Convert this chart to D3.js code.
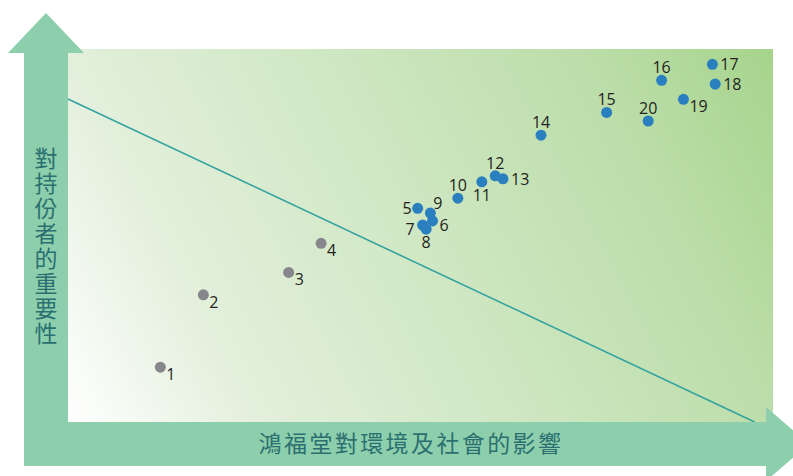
<html>
<head>
<meta charset="utf-8" />
<script src="https://cdn.jsdelivr.net/npm/d3@7/dist/d3.min.js"></script>
<style>
body { margin: 0; background: #fff; }
.num { font-family: "Open Sans", sans-serif; font-size: 16px; fill: #231f20; }
.axislabel { font-family: "Noto Sans CJK TC", sans-serif; font-size: 23px; fill: #2b6f70; }
</style>
</head>
<body>
<svg id="chart" width="793" height="476"></svg>
<script>

// issue numbers, impact on environment & society (x), importance to stakeholders (y)
var ids     = [1, 2, 3, 4, 5, 6, 7, 8, 9, 10, 11, 12, 13, 14, 15, 16, 17, 18, 19, 20];
var impact  = [13.1, 19.2, 31.3, 35.9, 49.6, 51.7, 50.3, 50.8, 51.4, 55.3, 58.7, 60.6, 61.7, 67.1, 76.4, 84.2, 91.4, 91.8, 87.3, 82.3];
var importance = [14.7, 34.1, 40.1, 47.9, 57.3, 53.9, 52.8, 51.7, 56.0, 60.0, 64.4, 66.0, 65.2, 76.9, 83.0, 91.6, 95.9, 90.6, 86.5, 80.7];
// which side of the dot the number sits on
var labelSide = ["br", "br", "br", "br", "l", "r6", "bl", "b", "tr", "t", "b", "t", "r", "t", "t", "t", "r", "r", "br", "t"];
// dividing line, two ends
var lineX = [0, 97.4];
var lineY = [86.6, 0];

var xTitle = "鴻福堂對環境及社會的影響";
var yTitle = "對持份者的重要性";

var plot = {left: 68, top: 49, right: 773, bottom: 422};
var shaft = 44;

var svg = d3.select("#chart");

var x = d3.scaleLinear().domain([0, 100]).range([plot.left, plot.right]);
var y = d3.scaleLinear().domain([0, 100]).range([plot.bottom, plot.top]);

// background gradient, white bottom-left to green top-right
var grad = svg.append("defs").append("linearGradient")
    .attr("id", "bg")
    .attr("gradientUnits", "userSpaceOnUse")
    .attr("x1", plot.left).attr("y1", plot.bottom)
    .attr("x2", plot.right).attr("y2", plot.top);
grad.append("stop").attr("offset", "0%").attr("stop-color", "#ffffff");
grad.append("stop").attr("offset", "20%").attr("stop-color", "#e4f0dd");
grad.append("stop").attr("offset", "50%").attr("stop-color", "#cfe7c3");
grad.append("stop").attr("offset", "80%").attr("stop-color", "#bbdda8");
grad.append("stop").attr("offset", "100%").attr("stop-color", "#a6d48c");

svg.append("rect")
    .attr("x", plot.left)
    .attr("y", plot.top)
    .attr("width", plot.right - plot.left)
    .attr("height", plot.bottom - plot.top)
    .attr("fill", "url(#bg)");

// diagonal line
svg.append("line")
    .attr("x1", x(lineX[0])).attr("y1", y(lineY[0]))
    .attr("x2", x(lineX[1])).attr("y2", y(lineY[1]))
    .attr("stroke", "#35a3a0")
    .attr("stroke-width", 1.6);

// arrows
var arrowColor = "#8dcfac";
var cx = plot.left - shaft / 2;      // vertical shaft centre
var cy = plot.bottom + shaft / 2;    // horizontal shaft centre
var upArrow = [
  [plot.left - shaft, plot.bottom + shaft],
  [plot.left - shaft, 53], [cx - 38, 53], [cx, 13], [cx + 38, 53],
  [plot.left, 53], [plot.left, plot.bottom + shaft]
];
var rightArrow = [
  [plot.left - shaft, plot.bottom], [766, plot.bottom], [766, cy - 37],
  [809, cy], [766, cy + 37], [766, plot.bottom + shaft], [plot.left - shaft, plot.bottom + shaft]
];
svg.append("path").attr("d", d3.line()(upArrow) + "Z").attr("fill", arrowColor);
svg.append("path").attr("d", d3.line()(rightArrow) + "Z").attr("fill", arrowColor);

// dots
var pts = ids.map(function(d, i) {
  return {id: d, x: impact[i], y: importance[i], side: labelSide[i]};
});

svg.append("g").selectAll("circle")
    .data(pts)
    .enter().append("circle")
    .attr("cx", function(d) { return x(d.x); })
    .attr("cy", function(d) { return y(d.y); })
    .attr("r", 5.5)
    .attr("fill", function(d) { return d.id <= 4 ? "#86868c" : "#2a7fbf"; });

var offsets = {
  br: [6, 13, "start"],
  r:  [8, 6, "start"],
  r6: [7, 10, "start"],
  l:  [-6, 6, "end"],
  bl: [-8, 10, "end"],
  b:  [0, 19, "middle"],
  t:  [0, -7, "middle"],
  tr: [3, -4, "start"]
};

svg.append("g").selectAll("text")
    .data(pts)
    .enter().append("text")
    .attr("class", "num")
    .attr("x", function(d) { return x(d.x) + offsets[d.side][0]; })
    .attr("y", function(d) { return y(d.y) + offsets[d.side][1]; })
    .attr("text-anchor", function(d) { return offsets[d.side][2]; })
    .text(function(d) { return d.id; });

// axis titles
svg.append("text")
    .attr("class", "axislabel")
    .attr("x", (plot.left + 766) / 2 - 6)
    .attr("y", cy + 8)
    .attr("text-anchor", "middle")
    .attr("letter-spacing", "2.4px")
    .text(xTitle);

svg.append("text")
    .attr("class", "axislabel")
    .attr("x", cx)
    .attr("y", 247)
    .attr("writing-mode", "tb")
    .attr("text-anchor", "middle")
    .attr("letter-spacing", "2px")
    .text(yTitle);

</script>
</body>
</html>
